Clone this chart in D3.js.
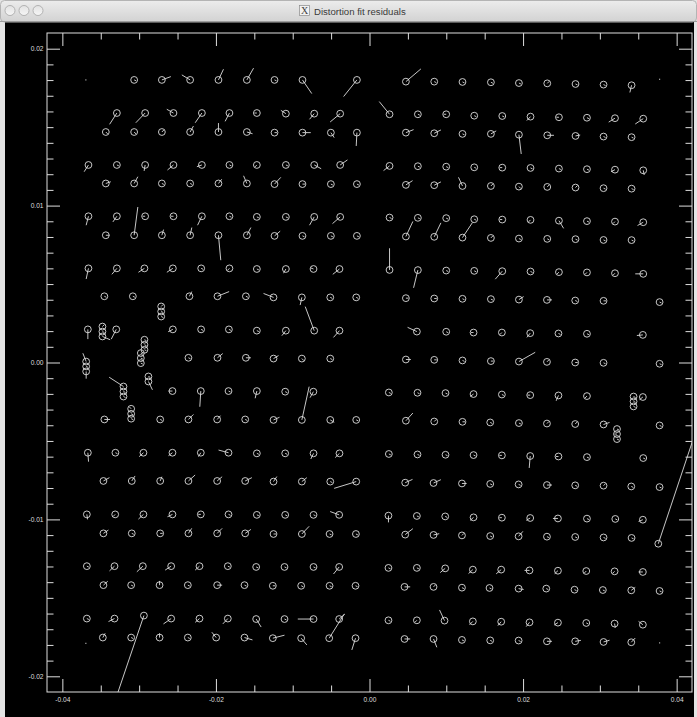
<!DOCTYPE html>
<html><head><meta charset="utf-8">
<script src="https://cdn.jsdelivr.net/npm/d3@7"></script>
<style>html,body{margin:0;padding:0;background:#fff;overflow:hidden}</style>
</head><body><svg id="c" width="697" height="717"></svg>
<script>
// Each entry: [x, y, residual dx (1e-4), residual dy (1e-4)]
const row01 = [[-0.03065,0.01801,2.6,-0.6],[-0.02704,0.01801,11.7,2.1],[-0.02336,0.01801,-10.8,3.2],[-0.01967,0.01801,6.5,6.8],[-0.01597,0.01801,8.7,7.5],[-0.01237,0.01801,2.6,-0.6],[-0.00873,0.01801,12.1,-8.7],[-0.00164,0.01801,-17.3,-10.6],[0.00474,0.01790,19.5,8.1],[0.00843,0.01790,2.6,-0.6],[0.01211,0.01788,2.6,-0.6],[0.01581,0.01786,2.6,-0.6],[0.01946,0.01781,2.6,-0.6],[0.02315,0.01779,2.6,1.3],[0.02683,0.01775,2.6,-0.6],[0.03048,0.01771,2.6,-0.6],[0.03413,0.01767,-2.2,-4.6]];
const row02 = [[-0.03290,0.01590,-9.5,-7.2],[-0.02922,0.01590,-12.1,-6.2],[-0.02553,0.01590,-8.7,2.4],[-0.02183,0.01590,-8.7,-6.2],[-0.01824,0.01590,-5.6,-5.3],[-0.01467,0.01590,-3.3,0],[-0.01089,0.01586,-6.5,2.1],[-0.00720,0.01586,-6.1,-3.6],[-0.00382,0.01586,-13.0,-5.3],[0.00261,0.01582,-13.4,8.1],[0.00630,0.01582,2.6,-0.6],[0.00999,0.01582,-3.3,0],[0.01364,0.01573,2.6,-0.6],[0.01729,0.01571,2.6,-0.6],[0.02097,0.01567,-4.8,-2.5],[0.02467,0.01563,-3.3,0],[0.02832,0.01560,2.6,-0.6],[0.03197,0.01557,-8.2,-2.5],[0.03565,0.01554,-10.4,-3.4]];
const row03 = [[-0.03434,0.01469,2.6,-1.3],[-0.03065,0.01469,2.6,-1.3],[-0.02704,0.01469,2.6,1.3],[-0.02336,0.01469,4.3,3.8],[-0.01967,0.01469,0,5.7],[-0.01597,0.01469,7.4,-1.1],[-0.01237,0.01465,3.3,0],[-0.00873,0.01465,10.8,0],[-0.00503,0.01465,4.3,-3.2],[-0.00164,0.01465,-0.9,-8.5],[0.00474,0.01465,10.0,1.9],[0.00843,0.01461,8.7,2.1],[0.01211,0.01457,2.6,-0.6],[0.01581,0.01457,6.9,1.9],[0.01946,0.01452,3.0,-12.3],[0.02315,0.01448,8.7,0],[0.02683,0.01444,6.1,0.6],[0.03048,0.01440,2.6,-0.6],[0.03413,0.01436,2.6,-0.6]];
const row04 = [[-0.03660,0.01259,-5.6,-4.3],[-0.03290,0.01259,2.6,-0.6],[-0.02922,0.01259,-1.3,-3.8],[-0.02553,0.01259,-7.8,-3.2],[-0.02183,0.01259,-6.5,-1.1],[-0.01824,0.01259,2.6,-0.6],[-0.01467,0.01259,-2.6,-1.3],[-0.01089,0.01259,2.6,-0.6],[-0.00720,0.01259,9.1,-2.4],[-0.00382,0.01259,9.5,3.2],[0.00261,0.01253,-7.8,-3.0],[0.00630,0.01251,2.6,-0.6],[0.00999,0.01248,2.6,-0.6],[0.01364,0.01244,2.6,-0.6],[0.01729,0.01242,-3.3,0],[0.02097,0.01240,2.6,-0.6],[0.02467,0.01236,2.6,-0.6],[0.02832,0.01232,2.6,-0.6],[0.03197,0.01229,-5.2,-1.3],[0.03565,0.01225,1.3,-3.0]];
const row05 = [[-0.03434,0.01141,6.5,1.1],[-0.03065,0.01141,4.8,4.3],[-0.02704,0.01141,2.6,-0.6],[-0.02336,0.01141,2.6,-0.6],[-0.01967,0.01141,4.3,2.7],[-0.01597,0.01141,-4.3,4.9],[-0.01237,0.01137,8.2,4.3],[-0.00873,0.01137,3.3,0],[-0.00503,0.01137,2.6,-0.6],[-0.00164,0.01137,2.6,-0.6],[0.00474,0.01132,8.7,2.7],[0.00843,0.01130,8.7,2.1],[0.01211,0.01125,-5.2,5.5],[0.01581,0.01125,2.6,1.3],[0.01946,0.01121,2.6,-1.3],[0.02315,0.01119,2.6,1.3],[0.02683,0.01115,2.6,1.3],[0.03048,0.01111,2.6,-0.6],[0.03413,0.01108,2.6,-0.6]];
const row06 = [[-0.03660,0.00932,-3.0,-5.7],[-0.03290,0.00932,-5.2,-3.6],[-0.02922,0.00932,-3.3,0],[-0.02553,0.00932,-3.3,0],[-0.02183,0.00932,-5.6,-5.7],[-0.01824,0.00932,2.6,-0.6],[-0.01467,0.00928,2.6,-0.6],[-0.01089,0.00928,2.6,-0.6],[-0.00720,0.00928,-6.1,-5.3],[-0.00382,0.00928,-10.0,-4.3],[0.00261,0.00924,2.6,-0.6],[0.00630,0.00922,2.6,-0.6],[0.00999,0.00920,2.6,-0.6],[0.01364,0.00913,2.6,-0.6],[0.01729,0.00911,-3.3,0],[0.02097,0.00909,-2.6,-1.3],[0.02467,0.00904,6.1,-4.9],[0.02832,0.00901,2.6,-0.6],[0.03197,0.00898,-2.6,-1.3],[0.03565,0.00894,-7.4,-2.1]];
const row07 = [[-0.03434,0.00811,4.8,0],[-0.03065,0.00811,4.8,18.0],[-0.02704,0.00811,2.2,3.6],[-0.02336,0.00811,2.2,4.9],[-0.01967,0.00811,3.0,-15.9],[-0.01597,0.00811,5.2,4.9],[-0.01237,0.00807,7.4,3.0],[-0.00873,0.00807,2.6,-0.6],[-0.00503,0.00807,2.6,-0.6],[-0.00164,0.00807,2.6,-0.6],[0.00474,0.00803,9.1,9.6],[0.00843,0.00801,8.7,8.9],[0.01211,0.00796,13.0,9.6],[0.01581,0.00794,2.6,1.3],[0.01946,0.00790,2.6,-0.6],[0.02315,0.00788,2.6,-0.6],[0.02683,0.00786,2.6,-0.6],[0.03048,0.00781,2.6,-0.6],[0.03413,0.00780,2.6,-0.6]];
const row08 = [[-0.03660,0.00600,-3.0,-6.8],[-0.03290,0.00600,-6.5,-3.8],[-0.02931,0.00600,-7.8,-2.5],[-0.02561,0.00600,-7.8,-2.5],[-0.02192,0.00600,2.6,-0.6],[-0.01824,0.00600,-2.6,-1.3],[-0.01467,0.00596,2.6,-0.6],[-0.01089,0.00596,-3.0,-2.7],[-0.00729,0.00596,-3.3,0.6],[-0.00391,0.00596,-8.7,-3.4],[0.00261,0.00590,0,13.8],[0.00630,0.00589,-5.6,-11.3],[0.00999,0.00586,2.6,-0.6],[0.01364,0.00584,2.6,-0.6],[0.01729,0.00582,-9.1,-5.1],[0.02097,0.00580,2.6,-0.6],[0.02467,0.00576,-2.6,-1.3],[0.02832,0.00574,-2.6,-1.3],[0.03197,0.00569,-2.6,-1.3],[0.03565,0.00565,-10.4,0]];
const row09 = [[-0.03453,0.00422,2.6,-0.6],[-0.03082,0.00422,2.6,-0.6],[-0.02345,0.00422,3.0,3.0],[-0.01980,0.00422,15.2,3.0],[-0.01610,0.00422,2.6,-0.6],[-0.01250,0.00415,-13.0,2.5],[-0.00881,0.00415,-2.2,-4.9],[-0.00511,0.00415,2.6,-0.6],[-0.00173,0.00415,2.6,-0.6],[0.00474,0.00410,3.3,0],[0.00843,0.00408,3.3,0],[0.01211,0.00406,2.6,-0.6],[0.01581,0.00404,2.6,-0.6],[0.01946,0.00401,6.1,1.9],[0.02311,0.00399,6.5,0],[0.02679,0.00395,2.6,-0.6],[0.03048,0.00393,3.3,0],[0.03778,0.00385,2.6,-0.6]];
const row10 = [[-0.03668,0.00211,0,-6.2],[-0.03298,0.00211,-6.5,-6.2],[-0.02561,0.00211,-6.1,-1.5],[-0.02193,0.00211,2.6,-0.6],[-0.01831,0.00211,2.6,-0.6],[-0.01467,0.00203,2.6,-0.6],[-0.01089,0.00203,-5.2,-3.2],[-0.00720,0.00203,-11.7,15.3],[-0.00391,0.00203,-7.8,-4.3],[0.00617,0.00197,-12.1,2.7],[0.00999,0.00196,2.6,-0.6],[0.01355,0.00191,-3.3,0],[0.01724,0.00191,-2.6,-1.3],[0.02093,0.00187,-4.3,-2.7],[0.02461,0.00185,2.6,-0.6],[0.02832,0.00183,2.6,-0.6],[0.03560,0.00176,-7.8,-0.4]];
const row11 = [[-0.02358,0.00030,2.6,-0.6],[-0.01980,0.00030,6.9,2.7],[-0.01610,0.00030,6.5,0],[-0.01250,0.00025,6.5,1.9],[-0.00881,0.00025,2.6,-1.3],[-0.00511,0.00025,2.6,-0.6],[0.00474,0.00019,6.5,0],[0.00843,0.00017,3.3,0],[0.01211,0.00013,2.6,-0.6],[0.01581,0.00009,3.3,0],[0.01946,0.00006,21.2,5.9],[0.02311,0.00004,2.6,1.3],[0.02679,0.00000,3.3,0],[0.03048,-0.00002,2.6,-0.6],[0.03778,-0.00008,2.6,-0.6]];
const row12 = [[-0.02566,-0.00182,-5.2,0],[-0.02197,-0.00182,-1.3,-10.0],[-0.01836,-0.00182,2.6,-0.6],[-0.01467,-0.00182,-2.2,-4.6],[-0.01098,-0.00186,2.6,-0.6],[-0.00731,-0.00186,-4.3,-3.8],[0.00252,-0.00191,2.6,-0.6],[0.00625,-0.00193,2.6,-0.6],[0.00990,-0.00195,2.6,-0.6],[0.01355,-0.00201,-4.3,-1.5],[0.01724,-0.00204,2.6,-0.6],[0.02093,-0.00208,-3.3,0],[0.02461,-0.00210,-3.0,-3.4],[0.02832,-0.00214,-2.6,-1.3],[0.03560,-0.00220,-4.3,-1.7]];
const row13 = [[-0.03453,-0.00363,7.4,0],[-0.02726,-0.00363,2.6,-0.6],[-0.02358,-0.00363,6.5,3.2],[-0.01984,-0.00363,4.3,2.4],[-0.01619,-0.00363,2.6,-0.6],[-0.01250,-0.00366,7.8,1.7],[-0.00881,-0.00366,9.5,21.2],[-0.00511,-0.00366,5.2,-1.5],[-0.00173,-0.00366,2.6,-0.6],[0.00474,-0.00371,9.1,4.9],[0.00843,-0.00376,2.6,1.3],[0.01211,-0.00378,3.3,0],[0.01572,-0.00382,2.6,-0.6],[0.01946,-0.00386,2.6,-0.6],[0.02311,-0.00389,2.6,1.3],[0.02679,-0.00392,2.6,1.3],[0.03048,-0.00395,7.8,1.3],[0.03778,-0.00401,2.6,-0.6]];
const row14 = [[-0.03668,-0.00575,0.9,-5.7],[-0.03309,-0.00575,2.6,-0.6],[-0.02944,-0.00575,-5.6,-2.5],[-0.02566,-0.00575,-5.2,-1.9],[-0.02197,-0.00575,-3.0,-2.5],[-0.01836,-0.00575,-13.0,1.7],[-0.01467,-0.00579,2.6,-0.6],[-0.01098,-0.00579,2.6,-0.6],[-0.00729,-0.00579,-3.5,-3.6],[-0.00391,-0.00579,-5.6,-2.7],[0.00252,-0.00583,2.6,-0.6],[0.00625,-0.00586,2.6,-0.6],[0.00990,-0.00588,2.6,-0.6],[0.01355,-0.00590,2.6,-0.6],[0.01724,-0.00592,-3.3,0],[0.02093,-0.00596,-1.3,-7.6],[0.02461,-0.00599,-3.3,0],[0.02832,-0.00603,2.6,-0.6],[0.03565,-0.00609,2.6,-0.6]];
const row15 = [[-0.03465,-0.00755,7.8,2.1],[-0.03096,-0.00755,4.3,3.2],[-0.02726,-0.00755,2.2,2.7],[-0.02358,-0.00755,8.7,3.8],[-0.01984,-0.00755,6.5,2.7],[-0.01619,-0.00755,8.7,2.1],[-0.01250,-0.00759,4.3,3.2],[-0.00881,-0.00759,6.5,2.5],[-0.00511,-0.00759,2.6,-0.6],[-0.00173,-0.00759,-28.7,-4.3],[0.00465,-0.00766,9.5,2.1],[0.00834,-0.00768,9.5,2.1],[0.01204,-0.00771,6.1,0],[0.01572,-0.00774,2.6,-0.6],[0.01942,-0.00777,2.6,-0.6],[0.02311,-0.00781,6.5,0],[0.02679,-0.00783,2.6,-0.6],[0.03048,-0.00785,2.6,1.3],[0.03409,-0.00790,2.6,-0.6],[0.03778,-0.00794,2.6,-0.6]];
const row16 = [[-0.03681,-0.00968,0.9,-3.2],[-0.03312,-0.00968,-2.6,-1.3],[-0.02944,-0.00968,-6.5,-3.0],[-0.02566,-0.00968,-6.5,-1.5],[-0.02197,-0.00968,-3.3,0],[-0.01836,-0.00968,2.6,-0.6],[-0.01467,-0.00971,2.6,-0.6],[-0.01098,-0.00971,2.6,-0.6],[-0.00729,-0.00971,2.6,-0.6],[-0.00395,-0.00971,-11.7,2.1],[0.00247,-0.00976,0,-4.3],[0.00617,-0.00978,2.6,-0.6],[0.00986,-0.00981,2.6,-0.6],[0.01355,-0.00987,-4.3,-1.9],[0.01724,-0.00989,-3.3,0],[0.02093,-0.00991,-5.2,-1.5],[0.02454,-0.00994,-6.5,0],[0.02832,-0.00995,2.6,-0.6],[0.03201,-0.00997,2.6,-0.6],[0.03560,-0.01002,-5.6,-1.1]];
const row17 = [[-0.03465,-0.01089,6.5,2.1],[-0.03096,-0.01089,2.6,-0.6],[-0.02726,-0.01089,3.3,0],[-0.02358,-0.01089,4.3,3.2],[-0.01984,-0.01089,6.5,3.2],[-0.01619,-0.01089,7.4,2.5],[-0.01250,-0.01093,3.3,0],[-0.00881,-0.01093,9.5,4.9],[-0.00520,-0.01093,2.6,-0.6],[-0.00177,-0.01093,2.6,-0.6],[0.00465,-0.01097,10.0,3.8],[0.00834,-0.01099,7.4,0.8],[0.01204,-0.01102,2.6,1.3],[0.01572,-0.01106,2.6,-0.6],[0.01942,-0.01108,5.6,3.2],[0.02311,-0.01110,2.6,-0.6],[0.02679,-0.01112,2.6,-0.6],[0.03048,-0.01115,2.6,-0.6],[0.03413,-0.01118,2.6,-0.6],[0.03761,-0.01155,46.9,68.8]];
const row18 = [[-0.03681,-0.01298,2.6,-0.6],[-0.03321,-0.01298,-6.5,-3.0],[-0.02952,-0.01298,-7.8,-3.6],[-0.02583,-0.01298,-7.8,-2.5],[-0.02214,-0.01298,-5.6,-2.5],[-0.01845,-0.01298,2.6,-0.6],[-0.01476,-0.01303,2.6,-0.6],[-0.01107,-0.01303,2.6,-0.6],[-0.00729,-0.01303,2.6,-0.6],[-0.00395,-0.01303,-7.4,-4.5],[0.00247,-0.01309,2.6,-0.6],[0.00617,-0.01309,2.6,-0.6],[0.00986,-0.01312,-6.5,-2.7],[0.01346,-0.01320,-5.6,-2.5],[0.01715,-0.01320,-6.5,-2.7],[0.02084,-0.01325,-6.5,0],[0.02454,-0.01327,-4.3,-1.9],[0.02823,-0.01329,-2.6,-1.3],[0.03192,-0.01331,-2.6,-1.3],[0.03560,-0.01335,-5.6,0]];
const row19 = [[-0.03465,-0.01419,5.6,2.5],[-0.03104,-0.01419,2.6,-0.6],[-0.02734,-0.01419,0,2.7],[-0.02366,-0.01419,2.6,-0.6],[-0.01984,-0.01419,6.5,0],[-0.01628,-0.01419,2.6,-0.6],[-0.01259,-0.01423,3.3,0],[-0.00890,-0.01423,2.6,-0.6],[-0.00520,-0.01423,2.6,-0.6],[-0.00182,-0.01423,2.6,-0.6],[0.00456,-0.01430,7.4,0],[0.00834,-0.01430,2.6,1.3],[0.01204,-0.01435,2.6,-0.6],[0.01563,-0.01437,2.6,-0.6],[0.01942,-0.01441,6.5,-0.6],[0.02302,-0.01441,2.6,-0.6],[0.02670,-0.01448,2.6,-0.6],[0.03039,-0.01450,2.6,-0.6],[0.03409,-0.01452,5.2,1.9],[0.03778,-0.01456,2.6,-0.6]];
const row20 = [[-0.03681,-0.01632,2.6,-0.6],[-0.03321,-0.01632,-7.8,-1.9],[-0.02938,-0.01613,-39.7,-57.4],[-0.02583,-0.01632,-10.0,-3.4],[-0.02214,-0.01632,-5.6,-2.4],[-0.01845,-0.01632,-6.5,-3.4],[-0.01476,-0.01635,6.5,-5.1],[-0.01107,-0.01635,2.6,-0.6],[-0.00729,-0.01635,-20.5,0],[-0.00395,-0.01635,7.4,3.2],[0.00247,-0.01643,2.6,-0.6],[0.00617,-0.01643,-2.6,-1.3],[0.00977,-0.01645,-6.5,6.8],[0.01346,-0.01650,-4.3,-2.1],[0.01715,-0.01652,-4.3,-2.5],[0.02084,-0.01656,-4.3,-2.7],[0.02454,-0.01658,-4.8,-1.5],[0.02823,-0.01660,2.6,-0.6],[0.03192,-0.01664,0.9,-2.7],[0.03560,-0.01671,-5.6,2.1]];
const row21 = [[-0.03473,-0.01753,3.0,2.7],[-0.03104,-0.01753,2.6,-0.6],[-0.02734,-0.01753,0,2.7],[-0.02366,-0.01753,2.6,-0.6],[-0.01997,-0.01753,-5.6,3.4],[-0.01628,-0.01753,10.4,-1.5],[-0.01259,-0.01757,15.2,1.9],[-0.00890,-0.01757,7.4,-4.3],[-0.00525,-0.01757,19.5,15.3],[-0.00182,-0.01757,-4.8,-7.5],[0.00456,-0.01762,7.4,0],[0.00834,-0.01762,4.3,-5.3],[0.01204,-0.01768,2.6,-0.6],[0.01572,-0.01771,2.6,-0.6],[0.01942,-0.01772,2.6,-0.6],[0.02311,-0.01777,6.5,0],[0.02679,-0.01777,7.4,0.6],[0.03048,-0.01781,7.8,1.1],[0.03409,-0.01783,5.2,2.7]];
// Repeated measurements stacked close together
const leftStacks = [[-0.03478,0.00229,2.6,1.3],[-0.03478,0.00197,2.6,-0.6],[-0.03478,0.00166,10.0,-2.1],[-0.03690,0.00006,-4.3,5.3],[-0.03690,-0.00025,2.6,-0.6],[-0.03690,-0.00057,0,-4.6],[-0.02978,0.00060,2.6,-0.6],[-0.02978,0.00028,2.6,-0.6],[-0.02978,-0.00004,2.6,-0.6],[-0.02931,0.00145,2.6,-0.6],[-0.02931,0.00113,2.6,-0.6],[-0.02931,0.00081,2.6,-0.6],[-0.02713,0.00357,2.6,1.3],[-0.02713,0.00325,2.6,-0.6],[-0.02713,0.00293,2.6,-0.6],[-0.02879,-0.00089,2.6,-0.6],[-0.02879,-0.00121,5.2,-5.3],[-0.03204,-0.00153,-18.6,5.9],[-0.03204,-0.00185,2.6,-0.6],[-0.03204,-0.00217,2.6,-0.6],[-0.03104,-0.00295,-2.6,1.3],[-0.03104,-0.00327,2.6,-0.6],[-0.03104,-0.00358,2.6,-0.6]];
const rightStacks = [[0.03439,-0.00217,2.6,-0.6],[0.03439,-0.00248,2.6,-0.6],[0.03439,-0.00280,2.6,-0.6],[0.03223,-0.00424,2.6,-0.6],[0.03223,-0.00456,-3.3,0],[0.03223,-0.00488,2.6,-0.6]];
// Corner reference points (no circle)
const dotX = [-0.03694, 0.03778, -0.03694, 0.03778];
const dotY = [0.01801, 0.01805, -0.01790, -0.01787];

const xTickValues = [-0.04, -0.02, 0, 0.02, 0.04];
const xTickLabels = ["-0.04", "-0.02", "0.00", "0.02", "0.04"];
const yTickValues = [-0.02, -0.01, 0, 0.01, 0.02];
const yTickLabels = ["-0.02", "-0.01", "0.00", "0.01", "0.02"];
const xMinorValues = [-0.035,-0.03,-0.025,-0.015,-0.01,-0.005,0.005,0.01,0.015,0.025,0.03,0.035];
const yMinorValues = [-0.019,-0.018,-0.017,-0.016,-0.015,-0.014,-0.013,-0.012,-0.011,-0.009,-0.008,-0.007,-0.006,-0.005,-0.004,-0.003,-0.002,-0.001,0.001,0.002,0.003,0.004,0.005,0.006,0.007,0.008,0.009,0.011,0.012,0.013,0.014,0.015,0.016,0.017,0.018,0.019];
const windowTitle = "Distortion fit residuals";

const W = 697, H = 717;
const svg = d3.select("#c");
const defs = svg.append("defs");
const g1 = defs.append("linearGradient").attr("id","tb").attr("x1",0).attr("y1",0).attr("x2",0).attr("y2",1);
g1.append("stop").attr("offset","0%").attr("stop-color","#ececec");
g1.append("stop").attr("offset","100%").attr("stop-color","#d2d2d2");
const g2 = defs.append("linearGradient").attr("id","btn").attr("x1",0).attr("y1",0).attr("x2",0).attr("y2",1);
g2.append("stop").attr("offset","0%").attr("stop-color","#e2e2e2");
g2.append("stop").attr("offset","100%").attr("stop-color","#f6f6f6");

// window frame
svg.append("rect").attr("x",0).attr("y",0).attr("width",W).attr("height",H).attr("fill","#e4e4e4");
svg.append("rect").attr("x",5).attr("y",22).attr("width",689).attr("height",H-22).attr("fill","#000");
svg.append("rect").attr("x",0.5).attr("y",0.5).attr("width",W-1).attr("height",21.5).attr("rx",4).attr("fill","url(#tb)").attr("stroke","#b4b4b4");
svg.append("line").attr("x1",0).attr("x2",W).attr("y1",21.5).attr("y2",21.5).attr("stroke","#9c9c9c");
[10, 24, 38].forEach(cx => {
  svg.append("circle").attr("cx",cx).attr("cy",10.5).attr("r",5).attr("fill","url(#btn)").attr("stroke","#a4a4a4").attr("stroke-width",0.8);
});
svg.append("rect").attr("x",299.5).attr("y",5.5).attr("width",10).attr("height",10).attr("fill","#f2f2f2").attr("stroke","#8a8a8a").attr("stroke-width",0.7);
svg.append("text").attr("x",304.5).attr("y",14).attr("text-anchor","middle").attr("font-family","Liberation Serif").attr("font-size",10).attr("fill","#444").text("X");
svg.append("text").attr("x",314).attr("y",14.5).attr("font-family","Liberation Sans, Arial, sans-serif").attr("font-size",9.6).attr("fill","#3a3a3a").text(windowTitle);

// scales
const x = d3.scaleLinear().domain([-0.042, 0.042]).range([47, 692]);
const y = d3.scaleLinear().domain([-0.021, 0.021]).range([692, 33]);
const ink = "#dedede";

defs.append("clipPath").attr("id","plotclip").append("rect")
  .attr("x",x.range()[0]).attr("y",y.range()[1]).attr("width",x.range()[1]-x.range()[0]).attr("height",y.range()[0]-y.range()[1]);

// axes
function styleAxis(g){
  g.select(".domain").remove();
  g.selectAll(".tick line").attr("stroke",ink).attr("stroke-width",1);
  g.selectAll(".tick text").attr("fill",ink).attr("font-family","Liberation Sans, Arial, sans-serif").attr("font-size",6.6);
}
const ax = svg.append("g");
ax.append("g").attr("transform",`translate(0,${y.range()[0]})`).call(d3.axisBottom(x).tickValues(xTickValues).tickSize(-13).tickPadding(5).tickFormat((d,i)=>xTickLabels[i])).call(styleAxis);
ax.append("g").attr("transform",`translate(0,${y.range()[0]})`).call(d3.axisBottom(x).tickValues(xMinorValues).tickSize(-6.5).tickFormat("")).call(styleAxis);
ax.append("g").attr("transform",`translate(0,${y.range()[1]})`).call(d3.axisTop(x).tickValues(xTickValues).tickSize(-13).tickFormat("")).call(styleAxis);
ax.append("g").attr("transform",`translate(0,${y.range()[1]})`).call(d3.axisTop(x).tickValues(xMinorValues).tickSize(-6.5).tickFormat("")).call(styleAxis);
ax.append("g").attr("transform",`translate(${x.range()[0]},0)`).call(d3.axisLeft(y).tickValues(yTickValues).tickSize(-13).tickPadding(3.5).tickFormat((d,i)=>yTickLabels[i])).call(styleAxis);
ax.append("g").attr("transform",`translate(${x.range()[0]},0)`).call(d3.axisLeft(y).tickValues(yMinorValues).tickSize(-6.5).tickFormat("")).call(styleAxis);
ax.append("g").attr("transform",`translate(${x.range()[1]},0)`).call(d3.axisRight(y).tickValues(yTickValues).tickSize(-13).tickFormat("")).call(styleAxis);
ax.append("g").attr("transform",`translate(${x.range()[1]},0)`).call(d3.axisRight(y).tickValues(yMinorValues).tickSize(-6.5).tickFormat("")).call(styleAxis);
svg.append("rect").attr("x",x.range()[0]).attr("y",y.range()[1]).attr("width",x.range()[1]-x.range()[0]).attr("height",y.range()[0]-y.range()[1])
  .attr("fill","none").attr("stroke",ink).attr("stroke-width",1);

// points
const allPoints = [].concat(row01,row02,row03,row04,row05,row06,row07,row08,row09,row10,row11,row12,row13,row14,row15,row16,row17,row18,row19,row20,row21,leftStacks,rightStacks);
const plot = svg.append("g").attr("clip-path","url(#plotclip)");
plot.selectAll("line.res").data(allPoints).join("line").attr("class","res")
  .attr("x1",d=>x(d[0])).attr("y1",d=>y(d[1]))
  .attr("x2",d=>x(d[0]+d[2]*1e-4)).attr("y2",d=>y(d[1]+d[3]*1e-4))
  .attr("stroke",ink).attr("stroke-width",0.9);
plot.selectAll("circle.pt").data(allPoints).join("circle").attr("class","pt")
  .attr("cx",d=>x(d[0])).attr("cy",d=>y(d[1])).attr("r",3.4)
  .attr("fill","none").attr("stroke",ink).attr("stroke-width",0.9);
plot.selectAll("rect.dot").data(dotX).join("rect").attr("class","dot")
  .attr("x",(d)=>x(d)-0.6).attr("y",(d,i)=>y(dotY[i])-0.6).attr("width",1.2).attr("height",1.2).attr("fill","#aaa");
</script></body></html>
